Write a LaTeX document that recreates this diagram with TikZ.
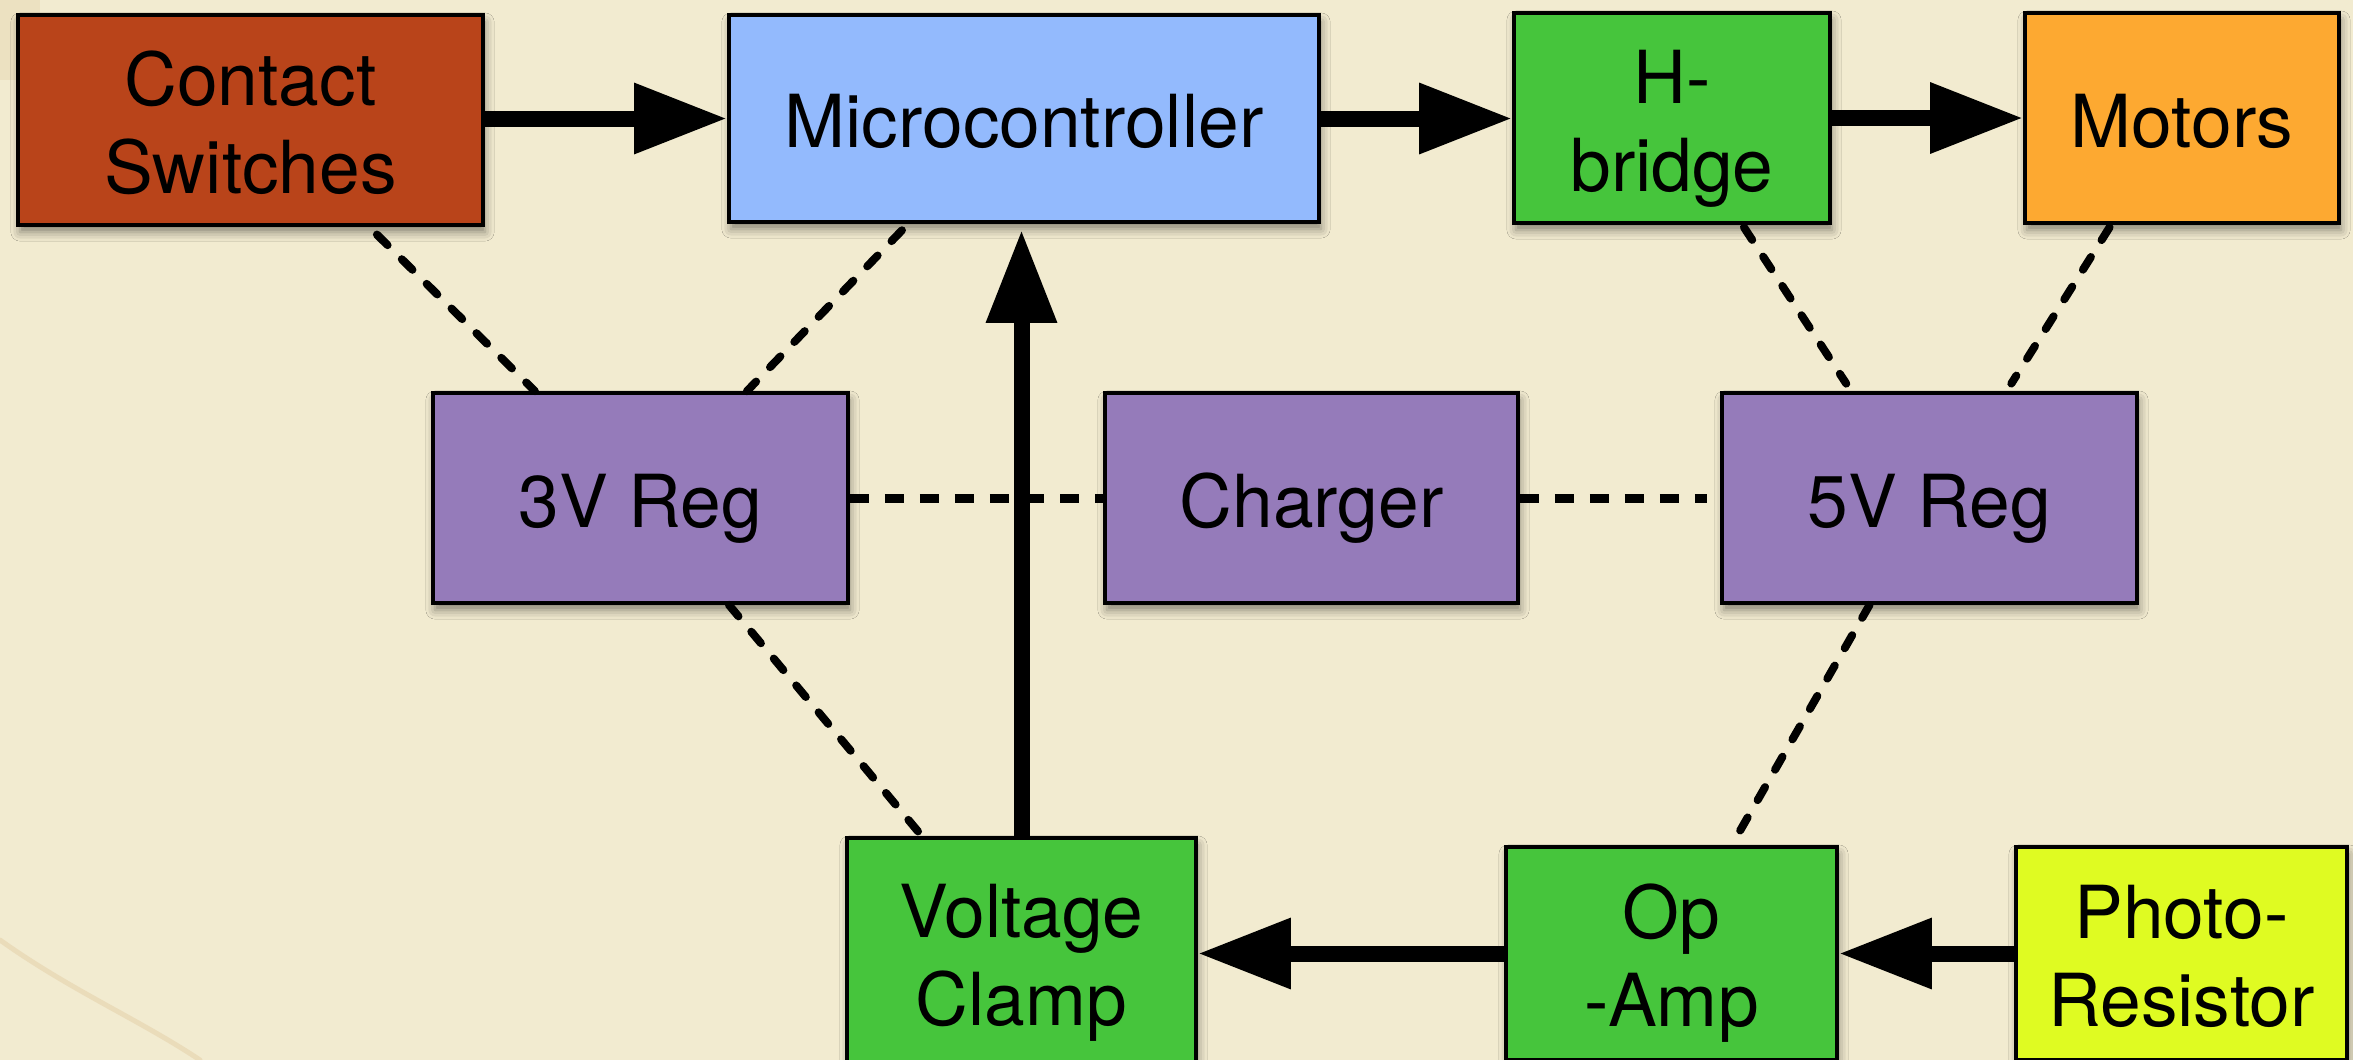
\documentclass[tikz,border=0pt]{standalone}
\usepackage{fontspec}
\setmainfont{TeX Gyre Heros}
\usetikzlibrary{arrows.meta,calc,shadows,shadows.blur}
\definecolor{bgpaper}{HTML}{F2EBD0}
\definecolor{stain}{HTML}{C89A5A}
\definecolor{rust}{HTML}{B9441A}
\definecolor{skyb}{HTML}{93BAFD}
\definecolor{grn}{HTML}{46C53C}
\definecolor{orng}{HTML}{FDA931}
\definecolor{purp}{HTML}{957BBA}
\definecolor{ylw}{HTML}{DFFB22}
\newcommand{\lblfont}{\fontsize{20.8}{25}\selectfont}
\newcommand{\oneln}[1]{\raisebox{0pt}[16.7pt][0pt]{#1}}
\newcommand{\twoln}[2]{\raisebox{0pt}[41.7pt][0pt]{\begin{tabular}[b]{@{}c@{}}#1\\#2\end{tabular}}}
\tikzset{
  bx/.style 2 args={draw=black, line width=0.035cm, inner sep=0pt,
    font=\lblfont, text=black, minimum width=#1, minimum height=#2,
    blur shadow={shadow xshift=0.02cm, shadow yshift=-0.07cm, shadow blur radius=0.09cm, shadow opacity=45}},
  arr/.style={line width=0.16cm, -{Triangle[length=0.93cm,width=0.67cm]}},
  dsh/.style={line width=0.08cm, line cap=round, dash pattern=on 0.15cm off 0.2cm},
  dotl/.style={line width=0.09cm, dash pattern=on 0.19cm off 0.16cm}
}
\begin{document}
\begin{tikzpicture}[x=0.01cm,y=-0.01cm]
\path[use as bounding box, fill=bgpaper] (0,0) rectangle (2353,1060);
\clip (0,0) rectangle (2353,1060);
% faint paper stains
\fill[stain, opacity=0.12] (0,0) rectangle (40,80);
\draw[stain, opacity=0.18, line width=0.05cm, line cap=round] (0,940) .. controls (70,990) and (140,1020) .. (200,1060);
% top row
\node[bx={4.65cm}{2.10cm}, fill=rust] (cs) at (250.5,120) {\twoln{Contact}{Switches}};
\node[bx={5.90cm}{2.07cm}, fill=skyb] (mc) at (1024,118.5) {\oneln{Microcontroller}};
\node[bx={3.16cm}{2.10cm}, fill=grn] (hb) at (1672,118) {\twoln{H-}{bridge}};
\node[bx={3.14cm}{2.10cm}, fill=orng] (mo) at (2182,118) {\oneln{Motors}};
% middle row
\node[bx={4.15cm}{2.10cm}, fill=purp] (r3) at (640.5,498) {\oneln{3V Reg}};
\node[bx={4.13cm}{2.10cm}, fill=purp] (ch) at (1311.5,498) {\oneln{Charger}};
\node[bx={4.15cm}{2.10cm}, fill=purp] (r5) at (1929.5,498) {\oneln{5V Reg}};
% bottom row
\node[bx={3.49cm}{2.28cm}, fill=grn] (vc) at (1021.5,952) {\twoln{Voltage}{Clamp}};
\node[bx={3.31cm}{2.13cm}, fill=grn] (oa) at (1671.5,953.5) {\twoln{Op}{-Amp}};
\node[bx={3.31cm}{2.13cm}, fill=ylw] (pr) at (2181.5,953.5) {\twoln{Photo-}{Resistor}};
% solid arrows
\draw[arr] (cs.east |- mc.west) -- (mc.west);
\draw[arr] (mc.east) -- (mc.east -| hb.west);
\draw[arr] (hb.east) -- (mo.west);
\draw[arr] (vc.north) -- ([yshift=-0.06cm]vc.north |- mc.south);
\draw[arr] (oa.west) -- (oa.west -| vc.east);
\draw[arr] (pr.west) -- (pr.west -| oa.east);
% dashed links
\draw[dsh, shorten <=0.11cm] ($(cs.south west)!0.753!(cs.south east)$) -- ($(r3.north west)!0.248!(r3.north east)$);
\draw[dsh, shorten <=0.09cm] ($(mc.south west)!0.305!(mc.south east)$) -- ($(r3.north west)!0.754!(r3.north east)$);
\draw[dsh, shorten <=0.03cm, shorten >=0.09cm] ($(hb.south west)!0.72!(hb.south east)$) -- ($(r5.north west)!0.313!(r5.north east)$);
\draw[dsh, shorten <=0.03cm, shorten >=0.09cm] ($(mo.south west)!0.277!(mo.south east)$) -- ($(r5.north west)!0.684!(r5.north east)$);
\draw[dsh, shorten >=0.06cm] ($(r3.south west)!0.711!(r3.south east)$) -- ($(vc.north west)!0.218!(vc.north east)$);
\draw[dsh] ($(r5.south west)!0.357!(r5.south east)$) -- ($(oa.north west)!0.68!(oa.north east)$);
% dotted links
\draw[dotl] (r3.east) -- (ch.west);
\draw[dotl, shorten >=0.13cm] (ch.east) -- (r5.west);
\end{tikzpicture}
\end{document}
